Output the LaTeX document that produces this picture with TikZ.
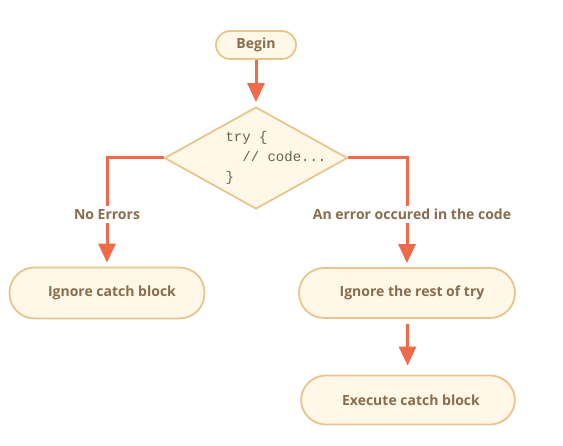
\documentclass[tikz,border=0pt]{standalone}
\usepackage{fontspec}
\setmainfont{Open Sans}
\setmonofont{Liberation Mono}
\usetikzlibrary{shapes.geometric,arrows.meta}
\definecolor{arrowred}{RGB}{237,106,74}
\definecolor{boxline}{RGB}{232,197,140}
\definecolor{boxfill}{RGB}{255,248,232}
\definecolor{labeltext}{RGB}{137,108,77}
\definecolor{codetext}{RGB}{108,96,82}
\tikzset{
  pill/.style={draw=boxline,fill=boxfill,line width=1.8pt,rounded corners=#1,
    text=labeltext,font=\bfseries\fontsize{14}{16}\selectfont},
  flow/.style={draw=arrowred,line width=3pt,-{Triangle[width=17pt,length=19pt]}},
  branch/.style={fill=white,text=labeltext,font=\bfseries\fontsize{14}{16}\selectfont,inner sep=3pt}
}
\begin{document}
\begin{tikzpicture}[x=1pt,y=-1pt]
\useasboundingbox (0,0) rectangle (563,446);
\node [pill=14pt,minimum width=80pt,minimum height=28pt](Begin) at (256,45){Begin};
\node [draw=boxline,fill=boxfill,line width=1.8pt,diamond,inner sep=0pt,minimum width=183pt,minimum height=102pt](Try) at (256,158){};
\node [text=codetext,font=\ttfamily\fontsize{14}{20}\selectfont,align=left](Code) at (276,158){try \{\\\ \ // code...\\\}};
\node [pill=25pt,minimum width=195pt,minimum height=51pt](IgnoreCatch) at (107,293){\hspace{10pt}Ignore catch block};
\node [pill=25pt,minimum width=216pt,minimum height=50pt](IgnoreRest) at (407,293){\hspace{10pt}Ignore the rest of try};
\node [pill=25pt,minimum width=214pt,minimum height=49pt](Execute) at (408,400){\hspace{6pt}Execute catch block};
\draw [flow,shorten >=4pt](Begin) -- (Try);
\draw [flow,shorten >=4pt](Try.west) -| (IgnoreCatch.north) node [branch,pos=0.76]{No Errors};
\draw [flow,shorten >=4pt](Try.east) -| (IgnoreRest.north) node [branch,pos=0.76,xshift=5pt]{An error occured in the code};
\draw [flow,shorten <=5pt,shorten >=9pt](IgnoreRest) -- (Execute);
\end{tikzpicture}
\end{document}
